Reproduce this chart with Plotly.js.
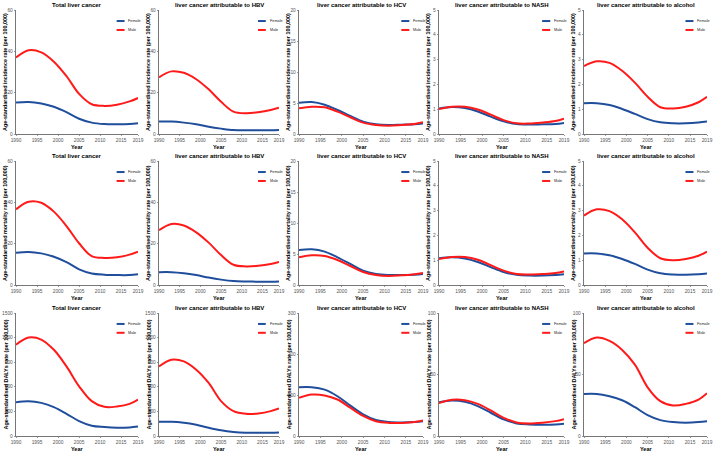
<!DOCTYPE html>
<html><head><meta charset="utf-8">
<script src="https://cdn.plot.ly/plotly-3.0.1.min.js"></script>
<style>html,body{margin:0;padding:0;background:#fff}#chart{width:714px;height:452px}</style>
</head><body><div id="chart"></div>
<script>
// ---- data ----
const years = [1990,1993,1996,1999,2002,2005,2008,2011,2014,2017,2019];
const panelTitles = ['Total liver cancer','liver cancer attributable to HBV','liver cancer attributable to HCV','liver cancer attributable to NASH','liver cancer attributable to alcohol'];
const rowTitles = ['Age-standardised incidence rate (per 100,000)','Age-standardised mortality rate (per 100,000)',"Age-standardised DALYs rate (per 100,000)"];
const seriesNames = ['Female','Male'];
const xTickVals = [1990,1995,2000,2005,2010,2015,2019];

// Incidence
const incTotalF = [15.2,15.5,14.8,13.2,10.6,7.4,5.5,4.8,4.7,4.8,5.2];
const incTotalM = [37.0,40.5,39.5,35.0,28.0,19.4,14.4,13.6,14.2,15.8,17.4];
const incHBVF = [6.0,6.0,5.5,4.7,3.5,2.6,1.9,1.8,1.8,1.8,1.9];
const incHBVM = [27.4,30.3,29.6,26.5,21.6,15.6,10.8,10.0,10.5,11.6,12.7];
const incHCVF = [5.05,5.16,4.73,3.87,2.9,2.0,1.56,1.45,1.5,1.56,1.7];
const incHCVM = [4.14,4.4,4.3,3.6,2.7,1.83,1.45,1.34,1.45,1.6,1.88];
const incNASHF = [1.03,1.09,1.05,0.91,0.70,0.51,0.40,0.38,0.39,0.40,0.44];
const incNASHM = [1.01,1.10,1.10,0.99,0.78,0.56,0.43,0.42,0.46,0.52,0.62];
const incAlcF = [1.24,1.24,1.17,1.01,0.81,0.60,0.47,0.43,0.43,0.46,0.50];
const incAlcM = [2.74,2.93,2.87,2.55,2.07,1.5,1.08,1.03,1.10,1.28,1.5];

// Mortality
const morTotalF = [15.6,16.0,15.3,13.7,11.1,7.6,5.6,5.0,4.8,4.8,5.2];
const morTotalM = [36.6,40.3,39.8,35.5,28.5,20.2,14.0,13.1,13.4,14.7,16.1];
const morHBVF = [6.2,6.2,5.7,4.8,3.6,2.6,1.9,1.7,1.6,1.6,1.7];
const morHBVM = [26.5,29.5,28.8,25.5,20.5,14.5,9.8,9.0,9.3,10.2,11.2];
const morHCVF = [5.64,5.75,5.38,4.46,3.39,2.31,1.77,1.61,1.61,1.67,1.77];
const morHCVM = [4.46,4.78,4.68,4.03,3.06,2.1,1.61,1.45,1.56,1.72,1.94];
const morNASHF = [1.08,1.12,1.07,0.93,0.72,0.52,0.41,0.38,0.38,0.40,0.43];
const morNASHM = [1.05,1.13,1.13,1.02,0.80,0.58,0.44,0.42,0.44,0.48,0.55];
const morAlcF = [1.27,1.27,1.2,1.05,0.85,0.62,0.47,0.42,0.41,0.43,0.46];
const morAlcM = [2.8,3.05,2.98,2.65,2.12,1.5,1.08,1.0,1.05,1.18,1.35];

// DALYs
const dalTotalF = [412,424,404,352,271,182,125,109,101,105,117];
const dalTotalM = [1112,1200,1176,1051,849,606,425,356,360,392,445];
const dalHBVF = [174,174,162,137,101,69,49,40,40,40,44];
const dalHBVM = [849,930,910,809,647,425,303,271,275,303,336];
const dalHCVF = [119,119,113,97,74,53,39,34,33,34,36];
const dalHCVM = [93,101,99,89,69,49,36,32,32,34,38];
const dalNASHF = [27.5,28.8,27.8,24.3,18.9,13.5,10.2,9.4,9.2,9.4,10.0];
const dalNASHM = [26.7,29.4,29.1,26.1,20.8,14.8,11.0,10.2,10.8,12.1,13.7];
const dalAlcF = [34.2,34.2,32.3,29.1,23.4,17.0,12.9,11.3,10.8,11.3,12.1];
const dalAlcM = [75.5,80,77.3,70,58,39.6,28.3,24.8,26.1,29.6,34.8];

const yMax = [[60,60,20,5,5],[60,60,20,5,5],[1500,1500,300,100,100]];
const yStep = [[20,20,5,1,1],[20,20,5,1,1],[300,300,100,50,50]];

const panelData = [
  [[incTotalF,incTotalM],[incHBVF,incHBVM],[incHCVF,incHCVM],[incNASHF,incNASHM],[incAlcF,incAlcM]],
  [[morTotalF,morTotalM],[morHBVF,morHBVM],[morHCVF,morHCVM],[morNASHF,morNASHM],[morAlcF,morAlcM]],
  [[dalTotalF,dalTotalM],[dalHBVF,dalHBVM],[dalHCVF,dalHCVM],[dalNASHF,dalNASHM],[dalAlcF,dalAlcM]]
];

// ---- styling / layout ----
const W = 714, H = 452;
const colors = ['#1f4e9c','#ff1a1a'];
const colPx = [[16,138],[159,279],[299,423],[439,564],[584,707]];
const rowPx = [[10,134],[161,285],[313,436]];
const FONT = 'Liberation Sans, Arial, sans-serif';
const axisGrey = '#555555';

const traces = [];
const layout = {
  width: W, height: H,
  margin: {l:0,r:0,t:0,b:0},
  paper_bgcolor: '#ffffff', plot_bgcolor: '#ffffff',
  showlegend: false,
  font: {family: FONT, color: '#000'},
  annotations: [], shapes: []
};

for (let r = 0; r < 3; r++) {
  for (let c = 0; c < 5; c++) {
    const k = r*5 + c + 1;
    const xa = 'x' + (k === 1 ? '' : k), ya = 'y' + (k === 1 ? '' : k);
    const xName = 'xaxis' + (k === 1 ? '' : k), yName = 'yaxis' + (k === 1 ? '' : k);
    layout[xName] = {
      domain: [colPx[c][0]/W, colPx[c][1]/W], anchor: ya,
      range: [1990, 2019], tickvals: xTickVals, ticktext: xTickVals.map(String),
      showline: true, linecolor: axisGrey, linewidth: 0.8,
      ticks: 'outside', ticklen: 1.5, tickwidth: 0.6, tickcolor: axisGrey,
      tickfont: {size: 4.8, color: axisGrey, family: FONT},
      showgrid: false, zeroline: false, fixedrange: true
    };
    const yt = [];
    for (let v = 0; v <= yMax[r][c] + 1e-9; v += yStep[r][c]) yt.push(+v.toFixed(6));
    layout[yName] = {
      domain: [1 - rowPx[r][1]/H, 1 - rowPx[r][0]/H], anchor: xa,
      range: [0, yMax[r][c]], tickvals: yt,
      showline: true, linecolor: axisGrey, linewidth: 0.8,
      ticks: 'outside', ticklen: 1.5, tickwidth: 0.6, tickcolor: axisGrey,
      tickfont: {size: 4.8, color: axisGrey, family: FONT},
      showgrid: false, zeroline: false, fixedrange: true
    };
    for (let s = 0; s < 2; s++) {
      traces.push({
        type: 'scatter', mode: 'lines', x: years, y: panelData[r][c][s],
        xaxis: xa, yaxis: ya, name: seriesNames[s],
        line: {color: colors[s], width: 2, shape: 'spline', smoothing: 1},
        hoverinfo: 'skip'
      });
      // legend key
      const ly = s === 0 ? 0.911 : 0.839;
      layout.shapes.push({type:'line', xref: xa + ' domain', yref: ya + ' domain',
        x0: 0.825, x1: 0.89, y0: ly, y1: ly, line: {color: colors[s], width: 2}});
      layout.annotations.push({xref: xa + ' domain', yref: ya + ' domain', x: 0.905, y: ly,
        xanchor: 'left', yanchor: 'middle', showarrow: false, text: seriesNames[s],
        font: {size: 3.8, color: '#222', family: FONT}});
    }
    // panel title
    layout.annotations.push({xref: xa + ' domain', yref: ya + ' domain', x: 0.5, y: 1, yshift: 5,
      xanchor: 'center', yanchor: 'middle', showarrow: false, text: panelTitles[c],
      font: {size: 6, weight: 'bold', color: '#000', family: FONT}});
    // y title
    layout.annotations.push({xref: xa + ' domain', yref: ya + ' domain', x: 0, xshift: -11, y: 0.5,
      xanchor: 'center', yanchor: 'middle', textangle: -90, showarrow: false, text: rowTitles[r],
      font: {size: 5.4, weight: 'bold', color: '#000', family: FONT}});
    // x title
    layout.annotations.push({xref: xa + ' domain', yref: ya + ' domain', x: 0.5, y: 0, yshift: -12.5,
      xanchor: 'center', yanchor: 'middle', showarrow: false, text: 'Year',
      font: {size: 5.5, weight: 'bold', color: '#000', family: FONT}});
  }
}

Plotly.newPlot('chart', traces, layout, {staticPlot: true, displayModeBar: false});
</script>
</body></html>
